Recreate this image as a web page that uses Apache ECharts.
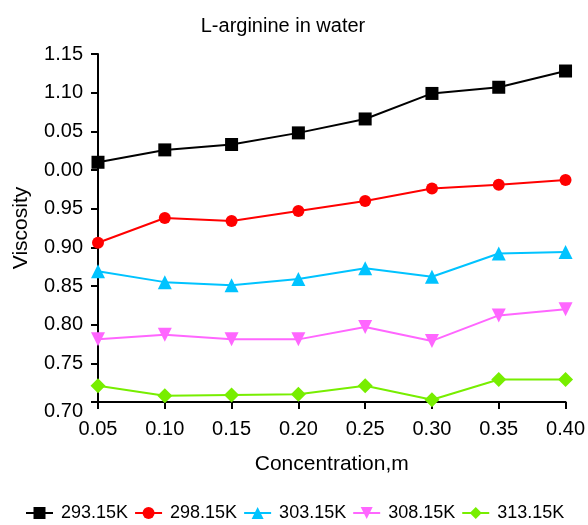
<!DOCTYPE html>
<html>
<head>
<meta charset="utf-8">
<script src="https://cdn.jsdelivr.net/npm/echarts@6/dist/echarts.min.js"></script>
<style>
  html, body { margin: 0; padding: 0; background: #fff; }
  #chart { width: 588px; height: 525px; }
</style>
</head>
<body>
<div id="chart"></div>
<script>
// concentrations (m)
const conc = [0.05, 0.10, 0.15, 0.20, 0.25, 0.30, 0.35, 0.40];
// viscosity readings per temperature
const t293 = [1.010, 1.026, 1.033, 1.048, 1.066, 1.099, 1.107, 1.128];
const t298 = [0.906, 0.938, 0.934, 0.947, 0.960, 0.976, 0.981, 0.987];
const t303 = [0.869, 0.855, 0.851, 0.859, 0.873, 0.862, 0.892, 0.894];
const t308 = [0.781, 0.787, 0.781, 0.781, 0.797, 0.779, 0.812, 0.820];
const t313 = [0.721, 0.708, 0.709, 0.710, 0.721, 0.703, 0.729, 0.729];
const seriesNames = ['293.15K', '298.15K', '303.15K', '308.15K', '313.15K'];
// y tick labels as printed on the original
const yTickLabels = ['0.70', '0.75', '0.80', '0.85', '0.90', '0.95', '0.00', '0.05', '1.10', '1.15'];

var chartDom = document.getElementById('chart');
var myChart = echarts.init(chartDom);

const colors = ['#000000', '#ff0000', '#00c3ff', '#ff66ff', '#77ee00'];
const symbols = ['rect', 'circle', 'triangle', 'path://M0,0 L10,0 L5,10 Z', 'diamond'];
const sizes = [13, 12, 14, 14, 15];
const allData = [t293, t298, t303, t308, t313];

const font = 'Liberation Sans, Arial, sans-serif';

var option = {
  title: {
    text: 'L-arginine in water',
    left: 278,
    top: 11,
    textAlign: 'center',
    textStyle: { fontFamily: font, fontWeight: 'normal', fontSize: 20, color: '#000' }
  },
  legend: {
    data: seriesNames,
    top: 499,
    left: 20,
    itemWidth: 27,
    itemHeight: 15,
    itemGap: 6,
    textStyle: { fontFamily: font, fontSize: 18, color: '#000', padding: [0, 0, 0, 3] }
  },
  grid: {
    left: 98,
    right: 15,
    top: 54,
    bottom: 123,
    containLabel: false
  },
  xAxis: {
    type: 'value',
    min: 0.05,
    max: 0.40,
    interval: 0.05,
    name: 'Concentration,m',
    nameLocation: 'middle',
    nameGap: 52,
    nameTextStyle: { fontFamily: font, fontSize: 21, color: '#000' },
    axisLine: { lineStyle: { color: '#000', width: 2 } },
    axisTick: { show: true, length: 7, lineStyle: { color: '#000', width: 2 } },
    axisLabel: {
      fontFamily: font, fontSize: 20, color: '#000', margin: 17,
      formatter: v => v.toFixed(2)
    },
    splitLine: { show: false }
  },
  yAxis: {
    type: 'value',
    min: 0.70,
    max: 1.15,
    interval: 0.05,
    name: 'Viscosity',
    nameLocation: 'middle',
    nameGap: 66,
    nameTextStyle: { fontFamily: font, fontSize: 21, color: '#000' },
    axisLine: { show: true, lineStyle: { color: '#000', width: 2 } },
    axisTick: { show: true, length: 7, lineStyle: { color: '#000', width: 2 } },
    axisLabel: {
      fontFamily: font, fontSize: 20, color: '#000', margin: 15,
      formatter: v => {
        const i = Math.round((v - 0.70) / 0.05);
        // bottom label sits a little lower in the original
        return i === 0 ? '{low|' + yTickLabels[i] + '}' : yTickLabels[i];
      },
      rich: {
        low: { fontFamily: font, fontSize: 20, color: '#000', padding: [18, 0, 0, 0] }
      }
    },
    splitLine: { show: false }
  },
  series: seriesNames.map((name, i) => ({
    name: name,
    type: 'line',
    data: conc.map((c, j) => [c, allData[i][j]]),
    symbol: symbols[i],
    symbolSize: sizes[i],
    showAllSymbol: true,
    lineStyle: { color: colors[i], width: 2 },
    itemStyle: { color: colors[i] },
    emphasis: { disabled: true },
    animation: false
  }))
};
option && myChart.setOption(option);
</script>
</body>
</html>
